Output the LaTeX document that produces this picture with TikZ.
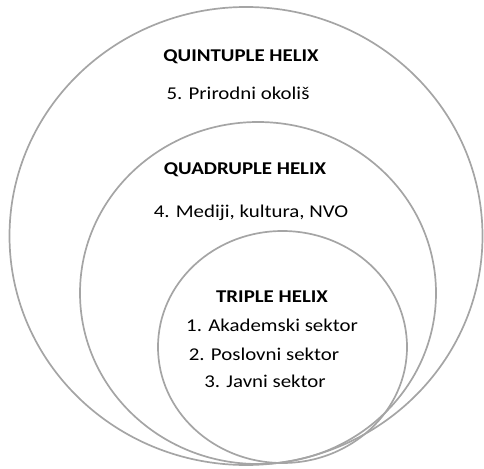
\documentclass[tikz,border=0pt]{standalone}
\usepackage{fontspec}
\usepackage{graphicx}
\setmainfont{Carlito}
\newcommand{\widetxt}[1]{\scalebox{1.16}[1]{#1}}
\begin{document}
\begin{tikzpicture}[x=1pt,y=-1pt,
  ring/.style={draw={rgb,255:red,165;green,165;blue,165},line width=1.7pt},
  head/.style={font=\fontsize{18}{21}\selectfont\bfseries,inner sep=0pt},
  item/.style={font=\fontsize{18}{21}\selectfont,inner sep=0pt}]
\useasboundingbox (0,0) rectangle (484,468);
\draw[ring] (246,236) ellipse [x radius=236.5, y radius=229];
\draw[ring] (258,293) ellipse [x radius=178, y radius=171];
\draw[ring] (282.5,347) ellipse [x radius=124.5, y radius=116];
\node[head] (q5) at (241,57) {\widetxt{QUINTUPLE HELIX}};
\node[item] (t5) at (238,93) {\widetxt{5. Prirodni okoliš}};
\node[head] (q4) at (245,170) {\widetxt{QUADRUPLE HELIX}};
\node[item] (t4) at (251,213) {\widetxt{4. Mediji, kultura, NVO}};
\node[head] (q3) at (272,297) {\widetxt{TRIPLE HELIX}};
\node[item] (t1) at (272,325) {\widetxt{1. Akademski sektor}};
\node[item] (t2) at (264,354) {\widetxt{2. Poslovni sektor}};
\node[item] (t3) at (265,381) {\widetxt{3. Javni sektor}};
\end{tikzpicture}
\end{document}
